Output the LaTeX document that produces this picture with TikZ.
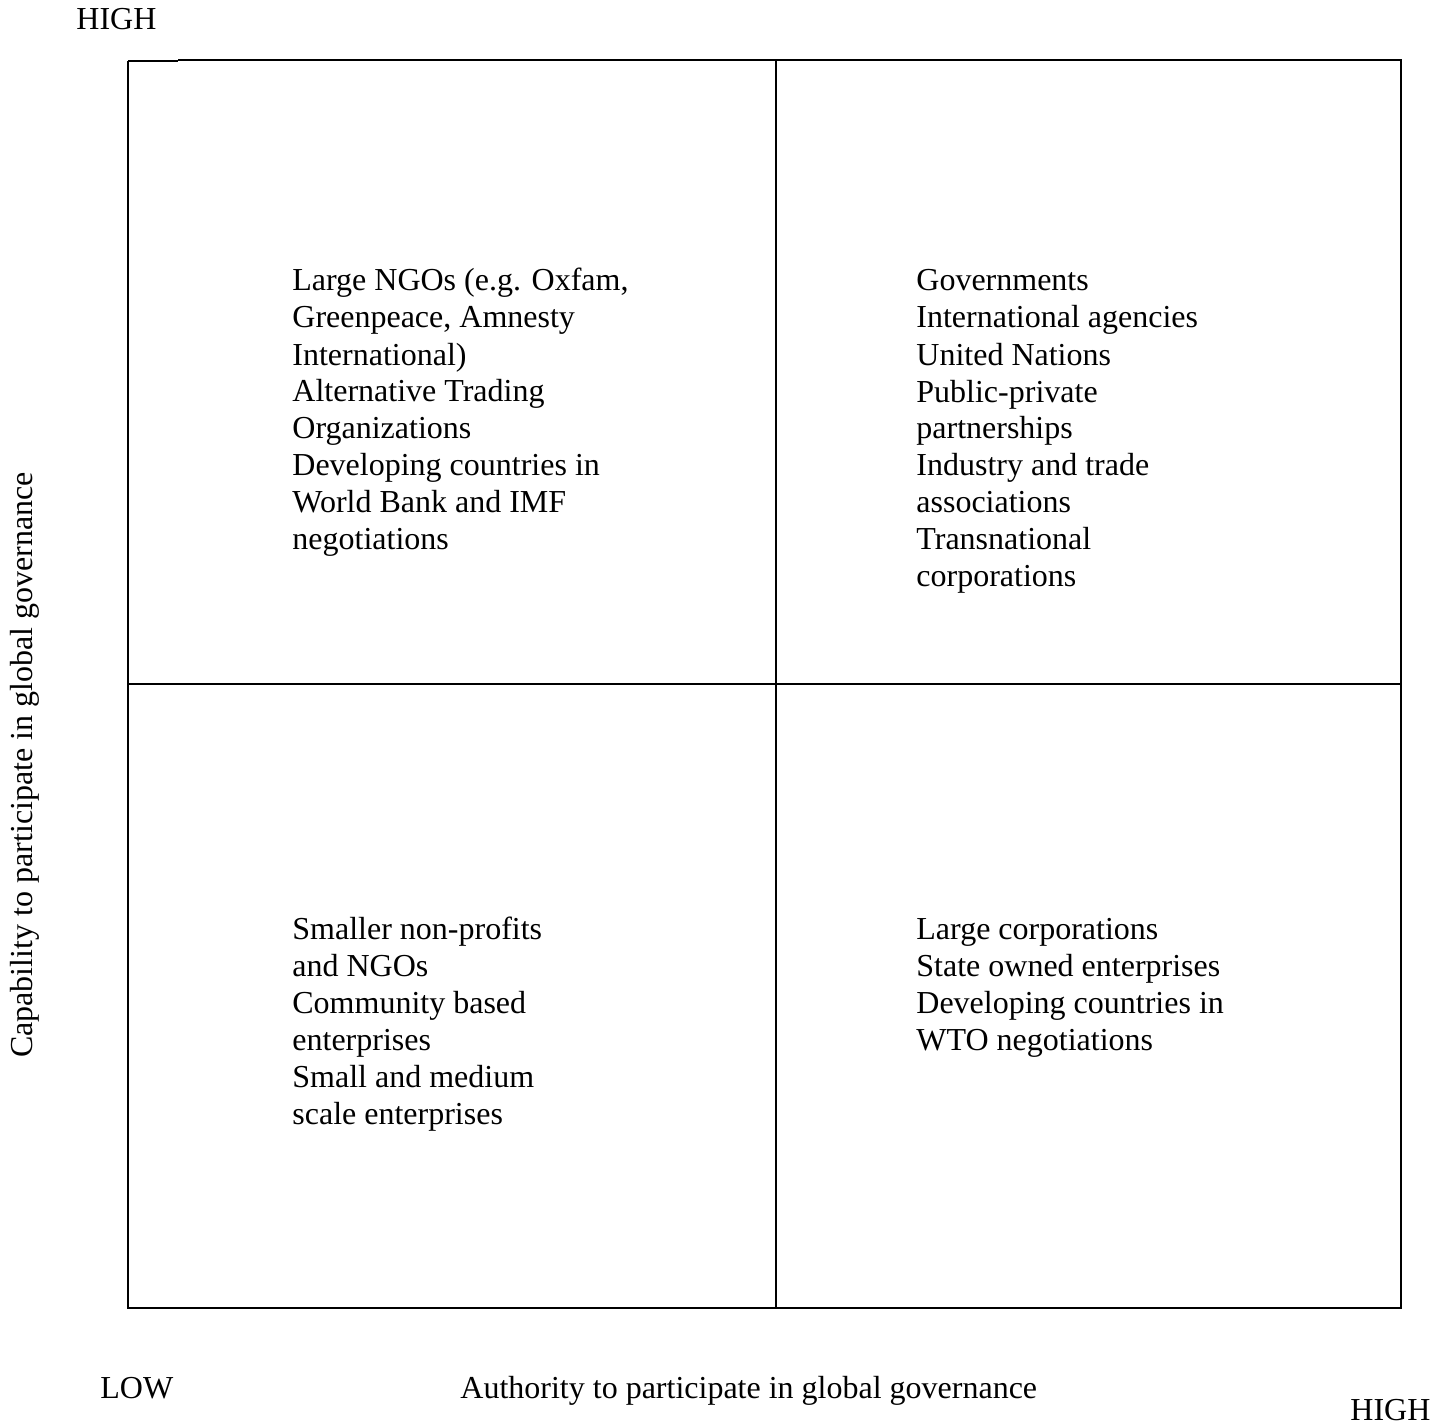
\documentclass[tikz,border=0pt]{standalone}
\usepackage{fontspec}
\setmainfont{Liberation Serif}
\begin{document}
\begin{tikzpicture}[x=0.5pt,y=-0.5pt,
  frame/.style={line width=1pt,black},
  thinframe/.style={line width=0.6pt,black},
  cell/.style={anchor=base west,inner sep=0pt,align=left,font=\fontsize{16}{18.5}\selectfont},
  axislabel/.style={anchor=base west,inner sep=0pt,font=\fontsize{16}{18.5}\selectfont}]
\useasboundingbox[fill=white] (0,0) rectangle (1445,1427);
% frame
\draw[thinframe] (128,61) -- (178,61);
\draw[frame] (178,60) -- (1401,60) -- (1401,1308) -- (128,1308) -- (128,61);
\draw[frame] (776,60) -- (776,1308);
\draw[frame] (128,684) -- (1401,684);
% quadrant texts (anchor = baseline of last line)
\node[cell] (tl) at (292,550) {Large NGOs (e.g. Oxfam,\\Greenpeace, Amnesty\\International)\\Alternative Trading\\Organizations\\Developing countries in\\World Bank and IMF\\negotiations};
\node[cell] (tr) at (916,587) {Governments\\International agencies\\United Nations\\Public-private\\partnerships\\Industry and trade\\associations\\Transnational\\corporations};
\node[cell] (bl) at (292,1124) {Smaller non-profits\\and NGOs\\Community based\\enterprises\\Small and medium\\scale enterprises};
\node[cell] (br) at (916,1050) {Large corporations\\State owned enterprises\\Developing countries in\\WTO negotiations};
% axis labels
\node[axislabel] (hightop) at (76,30) {HIGH};
\node[axislabel] (low) at (100,1398) {LOW};
\node[axislabel] (xlab) at (460,1398) {Authority to participate in global governance};
\node[axislabel] (highright) at (1350,1420) {HIGH};
\node[inner sep=0pt,rotate=90,font=\fontsize{16}{18.5}\selectfont] (ylab) at (25,765) {Capability to participate in global governance};
\end{tikzpicture}
\end{document}
